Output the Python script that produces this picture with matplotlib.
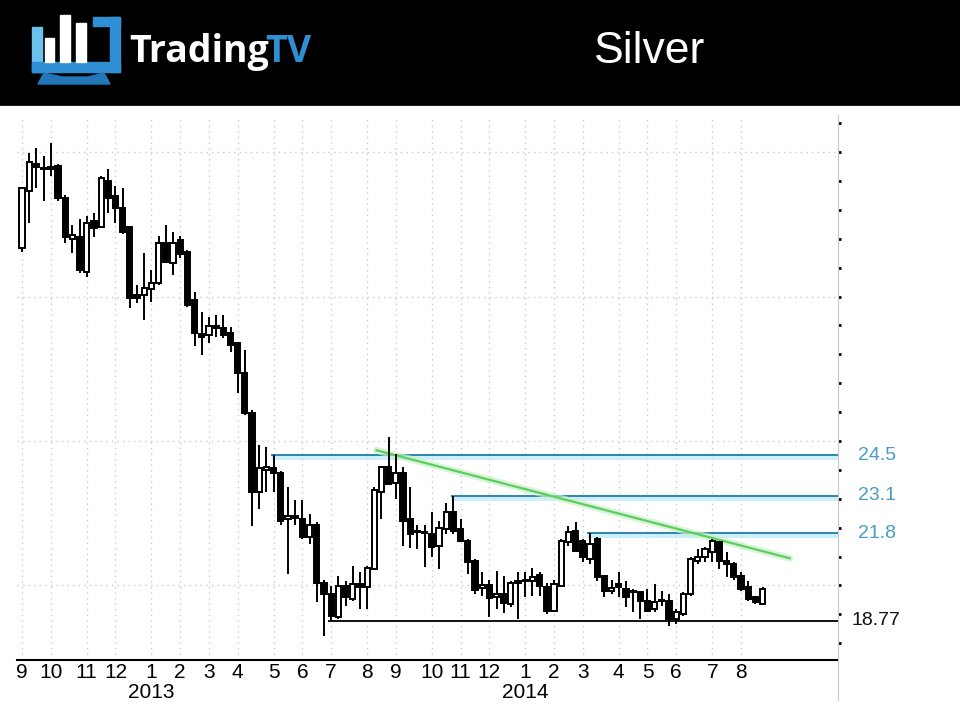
import matplotlib
matplotlib.use("Agg")
import matplotlib.pyplot as plt
from matplotlib.patches import Rectangle, Polygon
from matplotlib.lines import Line2D
from matplotlib.ticker import MultipleLocator, FixedLocator
import matplotlib.transforms as mtransforms
import numpy as np
import pandas as pd

plt.rcParams['font.family'] = ['Liberation Sans', 'DejaVu Sans']

# weekly silver candles, first week starts 2012-09-03
first_week = '2012-09-03'

opens = [31.67, 33.67, 34.6, 34.45, 34.4, 34.53, 33.42, 31.98, 32.05, 30.84,
         32.6, 32.39, 34.01, 33.49, 33.08, 32.39, 30.05, 30.05, 30.25, 30.46,
         31.87, 31.15, 31.94, 31.53, 29.87, 28.7, 28.67, 28.98, 28.9, 28.74,
         28.39, 27.36, 25.98, 23.25, 24.0, 24.08, 23.9, 22.3, 22.4, 22.3,
         21.67, 22.1, 20.1, 19.7, 18.91, 19.98, 19.53, 20.05, 19.94, 20.56,
         23.25, 24.1, 23.56, 23.9, 22.29, 21.9, 21.84, 21.77, 21.36, 21.94,
         22.53, 21.94, 21.53, 20.84, 19.9, 20.0, 19.6, 19.7, 19.35, 20.15,
         20.2, 20.15, 20.36, 19.94, 19.11, 19.98, 21.5, 21.87, 21.53, 20.9,
         21.6, 20.32, 19.8, 20.05, 19.87, 19.8, 19.77, 19.46, 19.18, 19.5,
         19.46, 18.84, 19.0, 19.7, 20.84, 21.0, 21.15, 21.5, 20.84, 20.73,
         20.32, 19.94, 19.6, 19.36]
highs = [33.8, 34.98, 35.15, 34.87, 35.32, 34.6, 33.5, 32.46, 32.7, 32.8,
         32.9, 34.18, 34.42, 33.84, 33.77, 32.4, 30.39, 31.49, 30.91, 32.1,
         32.46, 32.22, 32.1, 31.6, 30.15, 29.46, 29.29, 29.36, 29.36, 28.94,
         28.43, 28.15, 26.08, 24.87, 24.8, 24.5, 23.95, 23.4, 22.97, 22.97,
         22.46, 22.18, 20.2, 19.98, 20.32, 20.15, 20.67, 20.46, 20.67, 23.42,
         24.12, 25.15, 24.55, 24.1, 23.42, 22.1, 22.1, 22.53, 22.22, 22.87,
         23.1, 22.29, 21.6, 20.9, 20.45, 20.2, 20.5, 20.32, 20.17, 20.48,
         20.46, 20.6, 20.46, 20.1, 20.2, 21.6, 22.05, 22.18, 21.6, 21.8,
         21.67, 20.32, 20.2, 20.46, 20.15, 19.87, 19.8, 19.87, 20.05, 19.8,
         19.7, 19.18, 19.77, 21.0, 21.25, 21.32, 21.6, 21.5, 21.15, 20.8,
         20.46, 20.15, 19.63, 19.94]
lows = [31.53, 32.53, 33.77, 33.32, 34.18, 33.3, 31.87, 31.49, 30.8, 30.67,
        32.05, 32.36, 32.9, 32.53, 32.18, 29.6, 29.77, 29.18, 29.8, 30.4,
        31.15, 30.73, 31.32, 29.63, 28.29, 27.98, 28.39, 28.6, 28.56, 28.08,
        26.67, 25.91, 22.05, 22.65, 23.25, 23.22, 22.08, 20.4, 22.1, 21.6,
        21.43, 19.42, 18.25, 18.77, 18.84, 19.29, 19.46, 19.18, 19.18, 20.56,
        22.3, 23.5, 22.98, 21.36, 21.3, 21.25, 20.63, 21.0, 20.56, 21.77,
        21.77, 21.5, 20.4, 19.7, 19.62, 18.92, 19.2, 19.04, 19.27, 18.84,
        19.6, 19.63, 19.63, 19.0, 19.08, 19.94, 21.36, 21.15, 20.8, 20.73,
        20.15, 19.6, 19.7, 19.6, 19.25, 19.08, 18.84, 19.08, 19.08, 19.29,
        18.6, 18.67, 18.94, 19.63, 20.73, 20.8, 20.8, 20.56, 20.29, 20.2,
        19.8, 19.46, 19.36, 19.32]
closes = [33.74, 34.67, 34.5, 34.4, 34.5, 33.42, 32.05, 32.12, 30.91, 32.56,
          32.36, 34.11, 33.42, 33.08, 32.22, 29.94, 29.94, 30.29, 30.46, 31.84,
          31.18, 31.84, 31.49, 29.7, 28.74, 28.6, 28.98, 28.9, 28.67, 28.32,
          27.36, 25.98, 23.25, 24.05, 24.1, 23.9, 22.22, 22.4, 22.35, 21.67,
          22.1, 20.1, 19.7, 18.94, 19.98, 19.6, 20.05, 19.94, 20.6, 23.32,
          24.1, 23.5, 23.9, 22.22, 21.77, 21.84, 21.8, 21.32, 22.0, 22.53,
          21.9, 21.55, 20.8, 19.85, 20.0, 19.56, 19.72, 19.4, 20.1, 20.1,
          20.15, 20.29, 19.98, 19.11, 20.05, 21.53, 21.84, 21.18, 20.98, 21.43,
          20.29, 19.8, 19.9, 19.94, 19.6, 19.77, 19.46, 19.11, 19.42, 19.46,
          18.84, 19.08, 19.7, 20.91, 21.0, 21.25, 21.53, 20.84, 20.73, 20.29,
          19.87, 19.53, 19.42, 19.87]

levels = [24.5, 23.1, 21.8]
level_labels = ['24.5', '23.1', '21.8']
level_start = [35, 60, 79]
support = 18.77
support_label = '18.77'
support_start = 43
trend_x = [49.3, 106.8]
trend_y = [24.68, 20.94]
title = 'Silver'

weeks = pd.date_range(first_week, periods=len(opens), freq='W-MON')
idx = np.arange(len(opens))
month_pos = [i for i in idx if i == 0 or weeks[i].month != weeks[i - 1].month]
month_lab = [str(weeks[i].month) for i in month_pos]
year_pos = [i for i in month_pos if weeks[i].month == 1 and i > 0]

W, H = 960, 720
fig = plt.figure(figsize=(W / 100, H / 100), dpi=100)
fig.patch.set_facecolor('white')

ax = fig.add_axes([17 / W, 1 - 660 / H, (838 - 17) / W, (660 - 118) / H])
ax.set_xlim(-0.7, 113.5)
ax.set_ylim(17.42, 36.18)

ax.xaxis.set_major_locator(FixedLocator(month_pos))
ax.set_xticklabels(month_lab)
ax.yaxis.set_major_locator(FixedLocator([20, 25, 30, 35]))
ax.yaxis.set_minor_locator(MultipleLocator(1))
ax.grid(True, which='major', color='#c9c9c9', linestyle=(0, (1, 3)), linewidth=1)
ax.set_axisbelow(True)

ax.yaxis.tick_right()
ax.tick_params(axis='y', which='both', length=2.5, width=2, colors='black',
               labelright=False, pad=0)
ax.tick_params(axis='x', length=0, labelsize=15, pad=2)
for s in ['top', 'left', 'right']:
    ax.spines[s].set_visible(False)
ax.spines['bottom'].set_linewidth(1.5)

blend = mtransforms.blended_transform_factory(ax.transData, ax.transAxes)
for p in year_pos:
    ax.text(p, -0.06, str(weeks[p].year), transform=blend, ha='center',
            va='center', fontsize=15)

# resistance / support lines
xr = ax.get_xlim()[1]
for lvl, st in zip(levels, level_start):
    ax.hlines(lvl - 0.07, st - 0.4, xr, color='#cdeefa', lw=3.5, zorder=2)
    ax.hlines(lvl, st - 0.4, xr, color='#2b86ad', lw=1.4, zorder=2)
ax.hlines(support, support_start - 0.4, xr, color='#111111', lw=1.4, zorder=2)

ax.plot(trend_x, trend_y, color='#c9f0c9', lw=5, alpha=0.7, zorder=2,
        solid_capstyle='round')
ax.plot(trend_x, trend_y, color='#5cce5c', lw=1.6, zorder=2)

# candles
o = np.array(opens)
c = np.array(closes)
hi = np.array(highs)
lo = np.array(lows)
up = c >= o
ax.vlines(idx, lo, hi, color='black', lw=1.4, zorder=3)
ax.bar(idx[up], (c - o)[up], bottom=o[up], width=0.72, facecolor='white',
       edgecolor='black', lw=1.4, zorder=4)
ax.bar(idx[~up], (o - c)[~up], bottom=c[~up], width=0.72, facecolor='black',
       edgecolor='black', lw=1.4, zorder=4)

rblend = mtransforms.blended_transform_factory(ax.transAxes, ax.transData)
for lvl, lab in zip(levels, level_labels):
    ax.text(1.024, lvl, lab, transform=rblend, color='#4a9cc2', fontsize=14,
            va='center', ha='left', clip_on=False)
ax.text(1.017, support, support_label, transform=rblend, color='#111111',
        fontsize=14, va='center', ha='left', clip_on=False)

fig.add_artist(Line2D([838 / W, 838 / W], [1 - 115 / H, 1 - 700 / H],
                      color='#c8c8c8', lw=0.8))

# header
hd = fig.add_axes([0, 1 - 106 / H, 1, 106 / H])
hd.set_xlim(0, W)
hd.set_ylim(106, 0)
hd.axis('off')
hd.add_patch(Rectangle((0, 0), W, 105, color='black'))
hd.plot([0, W], [105.5, 105.5], color='#8a8a8a', lw=1)

blue = '#2f8fd2'
hd.add_patch(Rectangle((32, 27), 10, 45, color='#6cc0ee'))
hd.add_patch(Rectangle((32, 62), 88, 10, color=blue))
hd.add_patch(Rectangle((110, 17), 10, 55, color=blue))
hd.add_patch(Rectangle((93, 17), 27, 9, color=blue))
hd.add_patch(Polygon([(38, 84), (44, 73), (62, 77), (88, 77), (104, 73), (110, 84)],
                     closed=True, color='#2277b8'))
hd.add_patch(Rectangle((45, 38), 9, 24, color='white'))
hd.add_patch(Rectangle((60, 15), 10, 47, color='white'))
hd.add_patch(Rectangle((76, 23), 10, 39, color='white'))

hd.text(129, 62, 'Trading', color='white', fontsize=27, fontweight='bold',
        family=['Open Sans', 'DejaVu Sans'], va='baseline', ha='left')
hd.text(265, 62, 'TV', color=blue, fontsize=27, fontweight='bold',
        family=['Open Sans', 'DejaVu Sans'], va='baseline', ha='left')
hd.text(650, 63, title, color='white', fontsize=32, va='baseline', ha='center')

fig.savefig('out.png', dpi=100)
